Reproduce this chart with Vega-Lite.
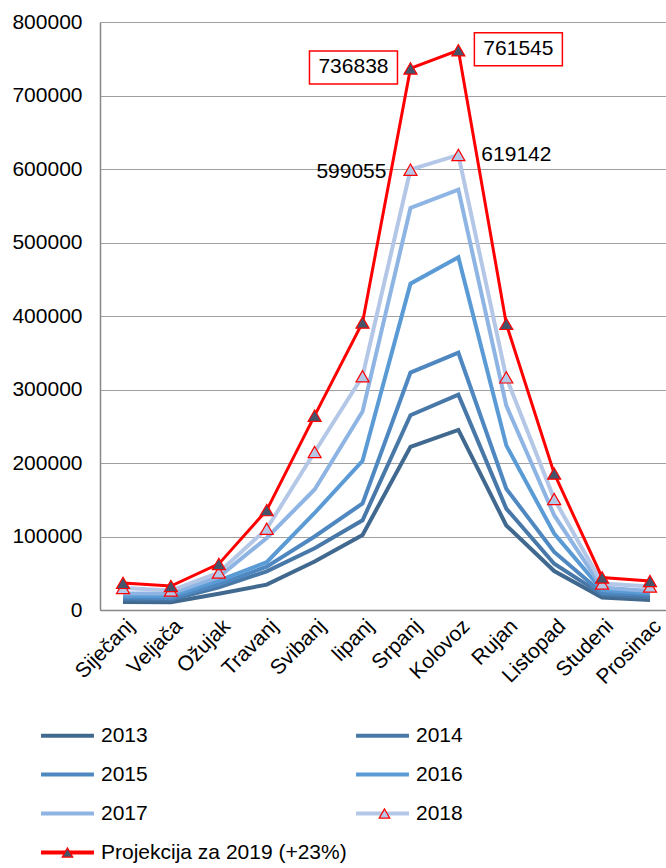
{
  "$schema": "https://vega.github.io/schema/vega-lite/v6.json",
  "width": 566,
  "height": 588,
  "autosize": "none",
  "padding": {"left": 100, "top": 22, "right": 0, "bottom": 258},
  "background": "white",
  "config": {
    "view": {"stroke": null},
    "font": "Liberation Sans",
    "text": {"font": "Liberation Sans"}
  },
  "data": {
    "values": [
      {"month": "Siječanj", "series": "2013", "value": 11000},
      {"month": "Veljača", "series": "2013", "value": 10500},
      {"month": "Ožujak", "series": "2013", "value": 22000},
      {"month": "Travanj", "series": "2013", "value": 34500},
      {"month": "Svibanj", "series": "2013", "value": 66000},
      {"month": "lipanj", "series": "2013", "value": 102000},
      {"month": "Srpanj", "series": "2013", "value": 222000},
      {"month": "Kolovoz", "series": "2013", "value": 245000},
      {"month": "Rujan", "series": "2013", "value": 115000},
      {"month": "Listopad", "series": "2013", "value": 53000},
      {"month": "Studeni", "series": "2013", "value": 17000},
      {"month": "Prosinac", "series": "2013", "value": 13500},
      {"month": "Siječanj", "series": "2014", "value": 14500},
      {"month": "Veljača", "series": "2014", "value": 14000},
      {"month": "Ožujak", "series": "2014", "value": 31000},
      {"month": "Travanj", "series": "2014", "value": 52500},
      {"month": "Svibanj", "series": "2014", "value": 84000},
      {"month": "lipanj", "series": "2014", "value": 122000},
      {"month": "Srpanj", "series": "2014", "value": 265000},
      {"month": "Kolovoz", "series": "2014", "value": 293000},
      {"month": "Rujan", "series": "2014", "value": 138000},
      {"month": "Listopad", "series": "2014", "value": 63000},
      {"month": "Studeni", "series": "2014", "value": 21000},
      {"month": "Prosinac", "series": "2014", "value": 17500},
      {"month": "Siječanj", "series": "2015", "value": 17000},
      {"month": "Veljača", "series": "2015", "value": 16500},
      {"month": "Ožujak", "series": "2015", "value": 35000},
      {"month": "Travanj", "series": "2015", "value": 59000},
      {"month": "Svibanj", "series": "2015", "value": 100000},
      {"month": "lipanj", "series": "2015", "value": 145000},
      {"month": "Srpanj", "series": "2015", "value": 323000},
      {"month": "Kolovoz", "series": "2015", "value": 350000},
      {"month": "Rujan", "series": "2015", "value": 165000},
      {"month": "Listopad", "series": "2015", "value": 79000},
      {"month": "Studeni", "series": "2015", "value": 23000},
      {"month": "Prosinac", "series": "2015", "value": 21000},
      {"month": "Siječanj", "series": "2016", "value": 19000},
      {"month": "Veljača", "series": "2016", "value": 19000},
      {"month": "Ožujak", "series": "2016", "value": 40000},
      {"month": "Travanj", "series": "2016", "value": 65000},
      {"month": "Svibanj", "series": "2016", "value": 132000},
      {"month": "lipanj", "series": "2016", "value": 203000},
      {"month": "Srpanj", "series": "2016", "value": 444000},
      {"month": "Kolovoz", "series": "2016", "value": 480000},
      {"month": "Rujan", "series": "2016", "value": 224000},
      {"month": "Listopad", "series": "2016", "value": 104000},
      {"month": "Studeni", "series": "2016", "value": 27000},
      {"month": "Prosinac", "series": "2016", "value": 23000},
      {"month": "Siječanj", "series": "2017", "value": 22500},
      {"month": "Veljača", "series": "2017", "value": 22500},
      {"month": "Ožujak", "series": "2017", "value": 45000},
      {"month": "Travanj", "series": "2017", "value": 98000},
      {"month": "Svibanj", "series": "2017", "value": 164000},
      {"month": "lipanj", "series": "2017", "value": 270000},
      {"month": "Srpanj", "series": "2017", "value": 547000},
      {"month": "Kolovoz", "series": "2017", "value": 572000},
      {"month": "Rujan", "series": "2017", "value": 278000},
      {"month": "Listopad", "series": "2017", "value": 129000},
      {"month": "Studeni", "series": "2017", "value": 30500},
      {"month": "Prosinac", "series": "2017", "value": 26000},
      {"month": "Siječanj", "series": "2018", "value": 30000},
      {"month": "Veljača", "series": "2018", "value": 26500},
      {"month": "Ožujak", "series": "2018", "value": 51000},
      {"month": "Travanj", "series": "2018", "value": 110500},
      {"month": "Svibanj", "series": "2018", "value": 215000},
      {"month": "lipanj", "series": "2018", "value": 318000},
      {"month": "Srpanj", "series": "2018", "value": 599055},
      {"month": "Kolovoz", "series": "2018", "value": 619142},
      {"month": "Rujan", "series": "2018", "value": 316500},
      {"month": "Listopad", "series": "2018", "value": 151000},
      {"month": "Studeni", "series": "2018", "value": 36000},
      {"month": "Prosinac", "series": "2018", "value": 32000},
      {"month": "Siječanj", "series": "Projekcija za 2019 (+23%)", "value": 36900},
      {"month": "Veljača", "series": "Projekcija za 2019 (+23%)", "value": 32595},
      {"month": "Ožujak", "series": "Projekcija za 2019 (+23%)", "value": 62730},
      {"month": "Travanj", "series": "Projekcija za 2019 (+23%)", "value": 135915},
      {"month": "Svibanj", "series": "Projekcija za 2019 (+23%)", "value": 264450},
      {"month": "lipanj", "series": "Projekcija za 2019 (+23%)", "value": 391140},
      {"month": "Srpanj", "series": "Projekcija za 2019 (+23%)", "value": 736838},
      {"month": "Kolovoz", "series": "Projekcija za 2019 (+23%)", "value": 761545},
      {"month": "Rujan", "series": "Projekcija za 2019 (+23%)", "value": 389295},
      {"month": "Listopad", "series": "Projekcija za 2019 (+23%)", "value": 185730},
      {"month": "Studeni", "series": "Projekcija za 2019 (+23%)", "value": 44280},
      {"month": "Prosinac", "series": "Projekcija za 2019 (+23%)", "value": 39360}
    ]
  },
  "encoding": {
    "x": {
      "field": "month",
      "type": "ordinal",
      "sort": ["Siječanj", "Veljača", "Ožujak", "Travanj", "Svibanj", "lipanj", "Srpanj", "Kolovoz", "Rujan", "Listopad", "Studeni", "Prosinac"],
      "scale": {"type": "point", "padding": 0.407, "align": 0.59},
      "axis": {
        "title": null,
        "labelAngle": -45,
        "labelFontSize": 21,
        "labelFont": "Liberation Sans",
        "labelColor": "#000000",
        "ticks": false,
        "labelPadding": 5,
        "domainColor": "#868686",
        "domainWidth": 1.5,
        "grid": false
      }
    },
    "y": {
      "field": "value",
      "type": "quantitative",
      "scale": {"domain": [0, 800000], "nice": false},
      "axis": {
        "title": null,
        "values": [0, 100000, 200000, 300000, 400000, 500000, 600000, 700000, 800000],
        "format": "d",
        "labelFontSize": 21,
        "labelFont": "Liberation Sans",
        "labelColor": "#000000",
        "ticks": false,
        "labelPadding": 18,
        "domainColor": "#868686",
        "domainWidth": 1.5,
        "grid": true,
        "gridColor": "#a0a0a0",
        "gridWidth": 1.2
      }
    }
  },
  "layer": [
    {
      "transform": [{"filter": "datum.series != 'Projekcija za 2019 (+23%)'"}],
      "mark": {"type": "line", "strokeWidth": 4, "strokeJoin": "miter"},
      "encoding": {
        "color": {
          "field": "series",
          "type": "nominal",
          "scale": {"range": ["#41698f", "#4878a8", "#4f88c0", "#5b9bd5", "#8eb4e3", "#b4c7e7", "#ff0000"]},
          "legend": {
            "orient": "none",
            "legendX": -43,
            "legendY": 703,
            "columns": 2,
            "direction": "horizontal",
            "title": null,
            "symbolType": "M-5,0L5,0",
            "symbolSize": 112,
            "symbolStrokeWidth": 4,
            "labelFontSize": 21,
            "labelFont": "Liberation Sans",
            "labelColor": "#000000",
            "labelOffset": 23,
            "columnPadding": 1,
            "rowPadding": 17,
            "labelLimit": 400,
            "padding": 0
          }
        }
      }
    },
    {
      "transform": [{"filter": "datum.series == 'Projekcija za 2019 (+23%)'"}],
      "mark": {"type": "line", "strokeWidth": 3, "strokeJoin": "miter"},
      "encoding": {
        "color": {"field": "series", "type": "nominal"}
      }
    },
    {
      "transform": [{"filter": {"field": "series", "oneOf": ["2018", "Projekcija za 2019 (+23%)"]}}],
      "mark": {"type": "point", "shape": "triangle-up", "size": 170, "filled": true, "opacity": 1, "strokeWidth": 1.2},
      "encoding": {
        "fill": {
          "field": "series",
          "type": "nominal",
          "scale": {
            "domain": ["2013", "2014", "2015", "2016", "2017", "2018", "Projekcija za 2019 (+23%)"],
            "range": ["transparent", "transparent", "transparent", "transparent", "transparent", "#b4c7e7", "#44546a"]
          },
          "legend": {
            "orient": "none",
            "legendX": -43,
            "legendY": 703,
            "columns": 2,
            "direction": "horizontal",
            "title": null,
            "symbolSize": 112,
            "symbolStrokeWidth": 1.2,
            "labelFontSize": 21,
            "labelFont": "Liberation Sans",
            "labelExpr": "''",
            "labelOffset": 23,
            "columnPadding": 273,
            "rowPadding": 17,
            "labelLimit": 400,
            "padding": 0,
            "encode": {
              "symbols": {
                "shape": {"value": "M-5,0M5,0M0,-1.05L0.95,0.75L-0.95,0.75Z"},
                "size": {"value": 112}
              }
            }
          }
        },
        "stroke": {
          "field": "series",
          "type": "nominal",
          "scale": {
            "domain": ["2013", "2014", "2015", "2016", "2017", "2018", "Projekcija za 2019 (+23%)"],
            "range": ["transparent", "transparent", "transparent", "transparent", "transparent", "#ff0000", "#ff0000"]
          },
          "legend": {
            "orient": "none",
            "legendX": -43,
            "legendY": 703,
            "columns": 2,
            "direction": "horizontal",
            "title": null,
            "symbolSize": 112,
            "symbolStrokeWidth": 1.2,
            "labelFontSize": 21,
            "labelFont": "Liberation Sans",
            "labelExpr": "''",
            "labelOffset": 23,
            "columnPadding": 273,
            "rowPadding": 17,
            "labelLimit": 400,
            "padding": 0,
            "encode": {
              "symbols": {
                "shape": {"value": "M-5,0M5,0M0,-1.05L0.95,0.75L-0.95,0.75Z"},
                "size": {"value": 112}
              }
            }
          }
        }
      }
    },
    {
      "transform": [{"filter": "datum.series == 'Projekcija za 2019 (+23%)' && datum.month == 'Srpanj'"}],
      "mark": {"type": "point", "shape": "M-1,-0.375L1,-0.375L1,0.375L-1,0.375Z", "size": 7744, "filled": true, "fill": "#ffffff", "stroke": "#ff0000", "strokeWidth": 1.5, "opacity": 1, "xOffset": -57, "yOffset": -1}
    },
    {
      "transform": [{"filter": "datum.series == 'Projekcija za 2019 (+23%)' && datum.month == 'Kolovoz'"}],
      "mark": {"type": "point", "shape": "M-1,-0.375L1,-0.375L1,0.375L-1,0.375Z", "size": 7744, "filled": true, "fill": "#ffffff", "stroke": "#ff0000", "strokeWidth": 1.5, "opacity": 1, "xOffset": 60, "yOffset": -1}
    },
    {
      "transform": [{"filter": "datum.series == 'Projekcija za 2019 (+23%)' && datum.month == 'Srpanj'"}],
      "mark": {"type": "text", "fontSize": 21, "color": "#000000", "align": "center", "baseline": "middle", "dx": -57, "dy": -1},
      "encoding": {"text": {"field": "value", "type": "quantitative", "format": "d"}}
    },
    {
      "transform": [{"filter": "datum.series == 'Projekcija za 2019 (+23%)' && datum.month == 'Kolovoz'"}],
      "mark": {"type": "text", "fontSize": 21, "color": "#000000", "align": "center", "baseline": "middle", "dx": 60, "dy": -1},
      "encoding": {"text": {"field": "value", "type": "quantitative", "format": "d"}}
    },
    {
      "transform": [{"filter": "datum.series == '2018' && datum.month == 'Srpanj'"}],
      "mark": {"type": "text", "fontSize": 21, "color": "#000000", "align": "right", "baseline": "middle", "dx": -24, "dy": 2},
      "encoding": {"text": {"field": "value", "type": "quantitative", "format": "d"}}
    },
    {
      "transform": [{"filter": "datum.series == '2018' && datum.month == 'Kolovoz'"}],
      "mark": {"type": "text", "fontSize": 21, "color": "#000000", "align": "left", "baseline": "middle", "dx": 23, "dy": 0},
      "encoding": {"text": {"field": "value", "type": "quantitative", "format": "d"}}
    }
  ]
}
